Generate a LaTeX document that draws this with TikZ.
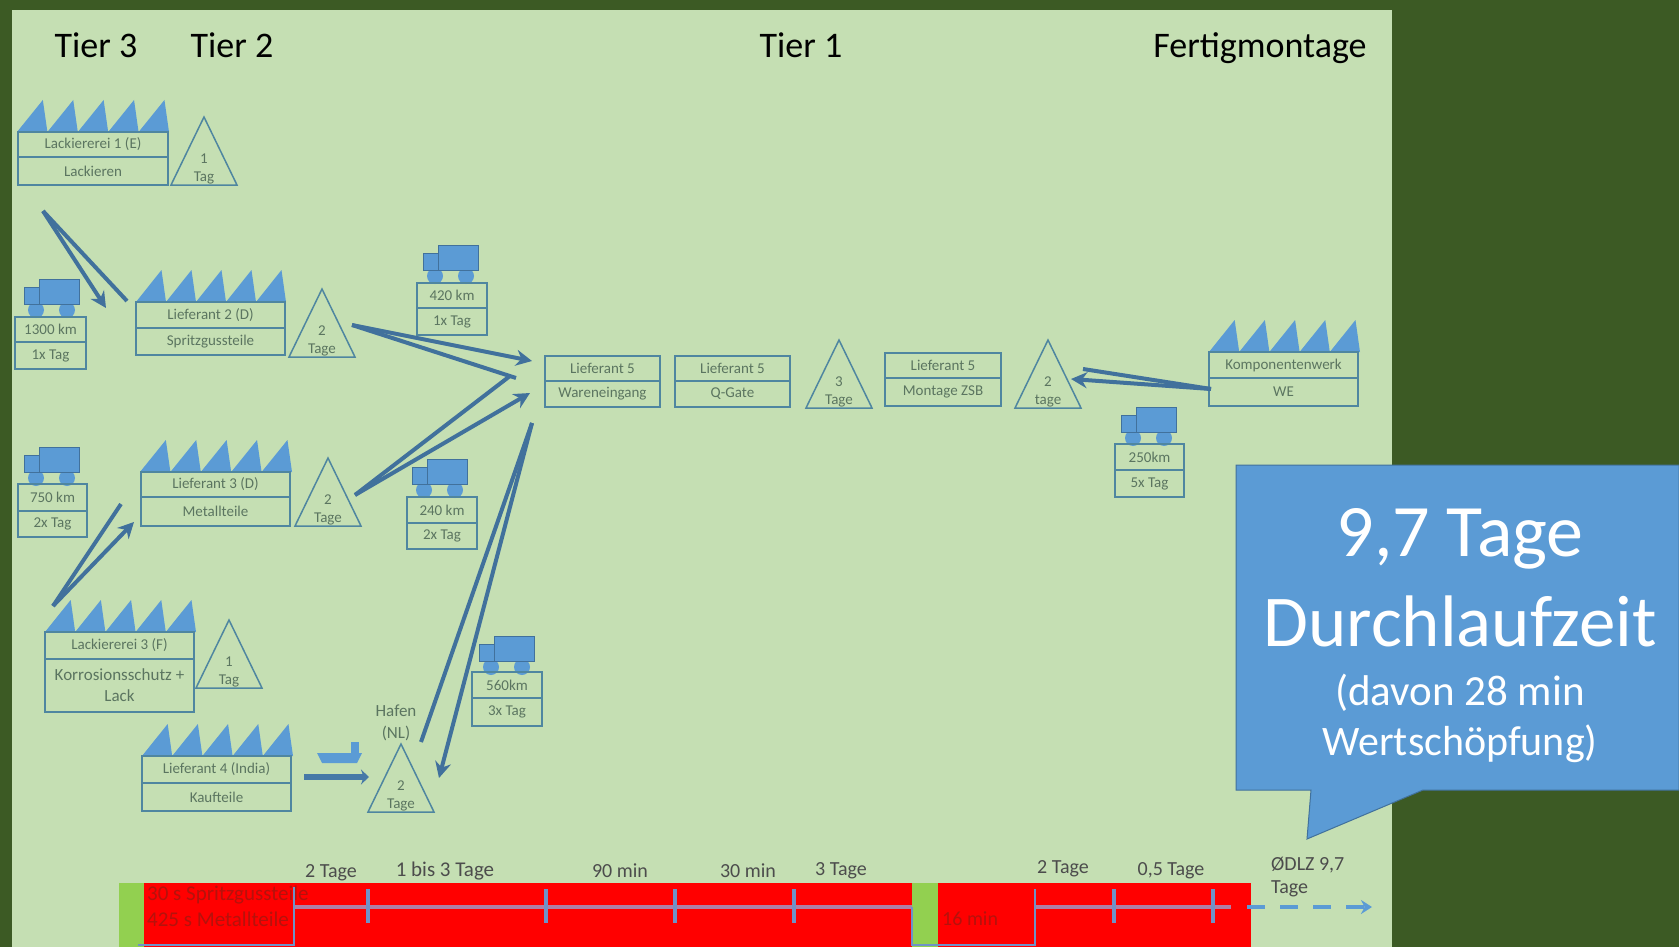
\documentclass[tikz,border=0pt]{standalone}
\usepackage{fontspec}
\setmainfont{Carlito}
\usepackage{xcolor}
\usetikzlibrary{arrows.meta}
\definecolor{darkbg}{HTML}{3C5A24}
\definecolor{panelbg}{HTML}{C5DFB3}
\definecolor{flowblue}{HTML}{41719C}
\definecolor{fillblue}{HTML}{5B9BD5}
\definecolor{boxline}{HTML}{4F86A0}
\definecolor{smalltxt}{HTML}{5B7560}
\definecolor{barred}{HTML}{FF0000}
\definecolor{bargreen}{HTML}{92D050}
\definecolor{barline}{HTML}{B07FA5}
\definecolor{tickblue}{HTML}{6F92C8}
\definecolor{redtxt}{HTML}{B5120C}
% two stacked cells, x y is the top left corner
\newcommand{\twobox}[8]{
	\node[cell,minimum width=#4pt,minimum height=#5pt] (#1a) at (#2,#3) {#7};
	\node[cell,minimum width=#4pt,minimum height=#6pt] (#1b) at (#1a.south west) {#8};
}
\newcommand{\roof}[3]{
	\pgfmathsetmacro{\tooth}{#3/5}
	\foreach \i in {0,...,4}
		\fill[fillblue] ({#1+\i*\tooth},#2) -- ({#1+(\i+.85)*\tooth},{#2-32}) -- ({#1+(\i+1)*\tooth},#2) -- cycle;
}
\newcommand{\lorry}[2]{
	\fill[fillblue] ({#1+12},{#2+31}) circle (8);
	\fill[fillblue] ({#1+43},{#2+31}) circle (8);
	\fill[fillblue,draw=flowblue,line width=.5pt] ({#1+15},#2) rectangle ({#1+55},{#2+25});
	\fill[fillblue,draw=flowblue,line width=.5pt] (#1,{#2+8}) rectangle ({#1+15},{#2+25});
}
\newcommand{\stock}[5]{
	\coordinate (#1) at (#2,#3);
	\draw[store] (#1) -- ({#2+33},{#3+68}) -- ({#2-33},{#3+68}) -- cycle;
	\node[small] (#1u) at (#2,{#3+42}) {#4};
	\node[small] (#1l) at (#2,{#3+61}) {#5};
}
\begin{document}
\begin{tikzpicture}[x=1pt,y=-1pt]
	\tikzstyle{cell}=[draw=boxline,line width=1.8pt,anchor=north west,inner sep=0pt,outer sep=0pt,text=smalltxt,align=center,font=\fontsize{15}{21}\selectfont]
	\tikzstyle{store}=[draw=boxline,line width=1.5pt]
	\tikzstyle{small}=[text=smalltxt,inner sep=0pt,font=\fontsize{15}{18}\selectfont]
	\tikzstyle{tier}=[text=black,inner sep=0pt,font=\fontsize{36}{40}\selectfont]
	\tikzstyle{time}=[text=black!70,inner sep=0pt,font=\fontsize{20}{24}\selectfont]
	\tikzstyle{redtime}=[text=redtxt,inner sep=0pt,anchor=west,font=\fontsize{20}{24}\selectfont]
	\tikzstyle{flow}=[draw=flowblue,line width=4pt]
	\tikzstyle{flowtip}=[flow,-{Stealth[length=16pt,width=16pt]}]
	\tikzstyle{shore}=[draw=barline,line width=4pt]
	\tikzstyle{tick}=[draw=tickblue,line width=3.5pt]
	\useasboundingbox (0,0) rectangle (1679,947);
	\fill[darkbg] (0,0) rectangle (1679,947);
	\fill[panelbg] (12,10) rectangle (1392,947);

	\node[tier] (t3) at (96,45) {Tier 3};
	\node[tier] (t2) at (232,45) {Tier 2};
	\node[tier] (t1) at (801,45) {Tier 1};
	\node[tier] (fm) at (1260,48) {Fertigmontage};

	% tier 3 and 2 suppliers
	\roof{17}{132}{152}
	\twobox{lack1}{18}{132}{150}{25}{28}{Lackiererei 1 (E)}{Lackieren}
	\stock{s1}{204}{117}{1}{Tag}
	\roof{136}{302}{150}
	\twobox{lief2}{136}{302}{149}{26}{27}{Lieferant 2 (D)}{Spritzgussteile}
	\stock{s2}{322}{289}{2}{Tage}
	\roof{140}{472}{152}
	\twobox{lief3}{141}{472}{149}{25}{29}{Lieferant 3 (D)}{Metallteile}
	\stock{s3}{328}{458}{2}{Tage}
	\roof{45}{632}{151}
	\twobox{lack3}{45}{632}{149}{27}{53}{Lackiererei 3 (F)}{\fontsize{17}{21}\selectfont Korrosionsschutz +\\ \fontsize{17}{21}\selectfont Lack}
	\stock{s4}{229}{620}{1}{Tag}
	\roof{142}{756}{151}
	\twobox{lief4}{142}{756}{149}{27}{28}{Lieferant 4 (India)}{Kaufteile}
	\stock{s5}{401}{744}{2}{Tage}
	\node[small,font=\fontsize{17}{20}\selectfont] (haf) at (396,711) {Hafen};
	\node[small,font=\fontsize{17}{20}\selectfont] (nl) at (396,733) {(NL)};

	% tier 1 and final assembly
	\twobox{we}{545}{356}{115}{25}{26}{Lieferant 5}{Wareneingang}
	\twobox{qg}{675}{356}{115}{25}{26}{Lieferant 5}{Q-Gate}
	\stock{s6}{839}{340}{3}{Tage}
	\twobox{mon}{885}{353}{116}{25}{28}{Lieferant 5}{Montage ZSB}
	\stock{s7}{1048}{340}{2}{tage}
	\roof{1209}{352}{151}
	\twobox{komp}{1209}{352}{149}{26}{28}{Komponentenwerk}{WE}

	% transports
	\lorry{24}{279}
	\twobox{d1}{15}{317}{71}{25}{27}{1300 km}{1x Tag}
	\lorry{423}{245}
	\twobox{d2}{417}{283}{70}{25}{27}{420 km}{1x Tag}
	\lorry{24}{447}
	\twobox{d3}{18}{484}{69}{27}{26}{750 km}{2x Tag}
	\lorry{412}{459}
	\twobox{d4}{407}{497}{70}{26}{26}{240 km}{2x Tag}
	\lorry{479}{636}
	\twobox{d5}{472}{672}{70}{26}{28}{560km}{3x Tag}
	\lorry{1121}{407}
	\twobox{d6}{1115}{444}{69}{26}{27}{250km}{5x Tag}

	% ship
	\fill[fillblue] (317,753) -- (362,753) -- (357,763) -- (322,763) -- cycle;
	\fill[fillblue] (351,742) rectangle (359,753);
	\coordinate (sa) at (304,777);
	\coordinate (sb) at (369,777);
	\draw[draw=flowblue!80!fillblue,line width=6.5pt,-{Stealth[length=8pt,width=15pt]}] (sa) -- (sb);

	% material flow
	\coordinate (a0) at (43,211);
	\coordinate (a1) at (127,301);
	\coordinate (a2) at (106,308);
	\draw[flow] (a0) -- (a1);
	\draw[flowtip] (a0) -- (a2);
	\coordinate (b0) at (53,606);
	\coordinate (b1) at (121,504);
	\coordinate (b2) at (134,522);
	\draw[flow] (b0) -- (b1);
	\draw[flowtip] (b0) -- (b2);
	\coordinate (c0) at (352,325);
	\coordinate (c1) at (516,378);
	\coordinate (c2) at (532,361);
	\draw[flow] (c0) -- (c1);
	\draw[flowtip] (c0) -- (c2);
	\coordinate (e0) at (355,495);
	\coordinate (e1) at (510,376);
	\coordinate (e2) at (530,393);
	\draw[flow] (e0) -- (e1);
	\draw[flowtip] (e0) -- (e2);
	\coordinate (f0) at (532,423);
	\coordinate (f1) at (421,742);
	\coordinate (f2) at (439,778);
	\draw[flow] (f0) -- (f1);
	\draw[flowtip] (f0) -- (f2);
	\coordinate (g0) at (1211,389);
	\coordinate (g1) at (1083,369);
	\coordinate (g2) at (1071,379);
	\draw[flow] (g0) -- (g1);
	\draw[flowtip] (g0) -- (g2);

	% time bar
	\fill[bargreen] (119,883) rectangle (144,947);
	\fill[barred] (144,883) rectangle (912,947);
	\fill[bargreen] (912,883) rectangle (938,947);
	\fill[barred] (938,883) rectangle (1251,947);
	\node[redtime,font=\fontsize{21}{24}\selectfont] (r1) at (147,895) {30 s Spritzgussteile};
	\node[redtime,font=\fontsize{21}{24}\selectfont] (r2) at (147,919) {425 s Metallteile};
	\node[redtime] (r3) at (942,919) {16 min};
	\coordinate (p0) at (138,945);
	\coordinate (p1) at (294,945);
	\coordinate (p2) at (294,907);
	\coordinate (p3) at (912,907);
	\coordinate (p4) at (912,945);
	\coordinate (p5) at (1035,945);
	\coordinate (p6) at (1035,907);
	\coordinate (p7) at (1231,907);
	\coordinate (p8) at (1247,907);
	\coordinate (p9) at (1372,907);
	\draw[shore] (p2) -- (p3);
	\draw[shore] (p6) -- (p7);
	\draw[tick,line width=2.5pt] (p0) -- (p1) -- (294,887);
	\draw[tick,line width=2.5pt] (p3) -- (p4) -- (p5) -- (1035,889);
	\foreach \x in {368,546,675,794,1114,1213}
		\draw[tick] (\x,889) -- (\x,923);
	\draw[draw=fillblue,line width=4.5pt,dash pattern=on 18pt off 15pt,-{Stealth[length=11pt,width=14pt]}] (p8) -- (p9);
	\node[time] (l1) at (331,873) {2 Tage};
	\node[time,font=\fontsize{21}{24}\selectfont] (l2) at (445,871) {1 bis 3 Tage};
	\node[time] (l3) at (620,871) {90 min};
	\node[time] (l4) at (748,871) {30 min};
	\node[time] (l5) at (841,871) {3 Tage};
	\node[time] (l6) at (1063,869) {2 Tage};
	\node[time] (l7) at (1171,871) {0,5 Tage};
	\node[time,anchor=west] (l8) at (1271,865) {ØDLZ 9,7};
	\node[time,anchor=west] (l9) at (1271,889) {Tage};

	% callout
	\draw[fill=fillblue,draw=flowblue,line width=1pt] (1236,465) -- (1679,465) -- (1679,790) -- (1423,790) -- (1307,839) -- (1311,790) -- (1236,790) -- cycle;
	\node[text=white,inner sep=0pt,font=\fontsize{74}{80}\selectfont] (c1t) at (1460,539) {9,7 Tage};
	\node[text=white,inner sep=0pt,font=\fontsize{73}{80}\selectfont] (c2t) at (1460,621) {Durchlaufzeit};
	\node[text=white,inner sep=0pt,font=\fontsize{43}{48}\selectfont] (c3t) at (1460,693) {(davon 28 min};
	\node[text=white,inner sep=0pt,font=\fontsize{42}{48}\selectfont] (c4t) at (1460,744) {Wertschöpfung)};
\end{tikzpicture}
\end{document}
